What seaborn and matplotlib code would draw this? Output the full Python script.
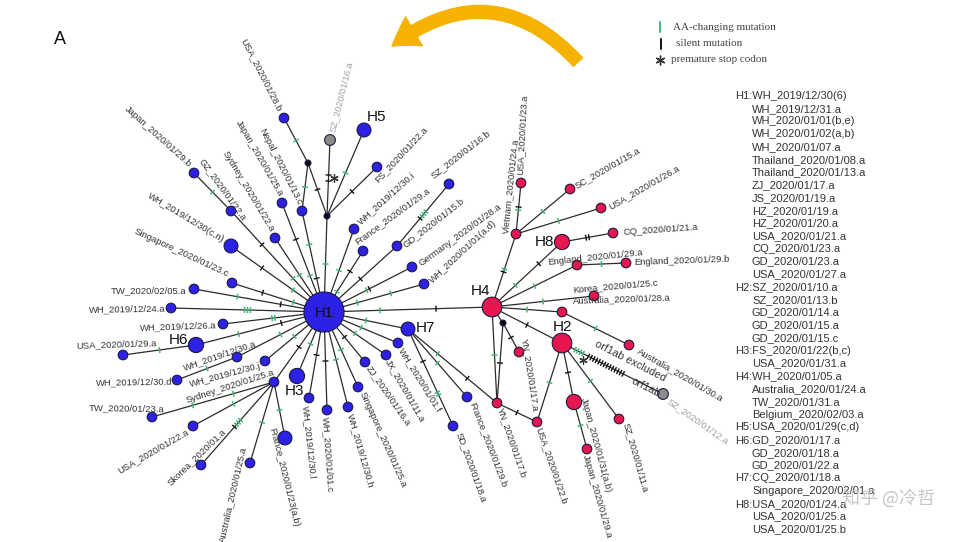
import numpy as np
import pandas as pd
import matplotlib.pyplot as plt
import seaborn as sns
from matplotlib.collections import LineCollection
from matplotlib.patches import FancyArrowPatch, ArrowStyle

sns.set_style("white")
plt.rcParams['font.family'] = ['Liberation Sans', 'DejaVu Sans']

# haplotype network nodes, positions (pixels, y pointing down)
node_names = [
    "H1", "J1", "J2", "USA_2020/01/28.b", "SZ_2020/01/16.a", "H5", "FS_2020/01/22.a",
    "Japan_2020/01/25.a", "Nepal_2020/01/13.c", "Sydney_2020/01/22.a", "GZ_2020/01/22.a",
    "Japan_2020/01/29.b", "WH_2019/12/30(c,n)", "Singapore_2020/01/23.c", "TW_2020/02/05.a",
    "WH_2019/12/24.a", "WH_2019/12/26.a", "H6", "USA_2020/01/29.a", "WH_2019/12/30.a",
    "WH_2019/12/30.d", "WH_2019/12/30.j", "Sydney_2020/01/25.a", "TW_2020/01/23.a",
    "USA_2020/01/22.a", "Skorea_2020/01.a", "Australia_2020/01/25.a", "France_2020/01/23(a,b)",
    "H3", "WH_2019/12/30.l", "WH_2020/01/01.c", "WH_2019/12/30.h", "Singapore_2020/01/25.a",
    "ZJ_2020/01/16.a", "JX_2020/01/11.a", "WH_2020/01/01.f", "H7", "SD_2020/01/18.a",
    "France_2020/01/29.b", "WH_2020/01/01(a,d)", "Germany_2020/01/28.a", "GD_2020/01/15.b",
    "SZ_2020/01/16.b", "France_2020/01/29.a", "WH_2019/12/30.i",
    "H4", "J3", "Vietnam_2020/01/24.a", "USA_2020/01/23.a", "SC_2020/01/15.a",
    "USA_2020/01/26.a", "H8", "CQ_2020/01/21.a", "England_2020/01/29.a", "England_2020/01/29.b",
    "Korea_2020/01/25.c", "Australia_2020/01/28.a", "Australia_2020/01/30.a", "H2",
    "YN_2020/01/17.a", "YN_2020/01/17.b", "USA_2020/01/22.b", "Japan_2020/01/31(a,b)",
    "Japan_2020/01/29.a", "SZ_2020/01/11.a", "SZ_2020/01/12.a",
]
node_x = [
    324, 308, 327, 284, 330, 364, 377,
    282, 302, 275, 231,
    194, 231, 232, 194,
    171, 223, 196, 123, 237,
    177, 265, 274, 152,
    193, 201, 250, 285,
    297, 309, 327, 348, 358,
    365, 386, 398, 408, 453,
    467, 424, 412, 397,
    449, 363, 354,
    492, 503, 516, 521, 570,
    601, 562, 613, 577, 626,
    594, 562, 629, 562,
    519, 497, 537, 574,
    587, 619, 663,
]
node_y = [
    312, 163, 216, 118, 140, 130, 167,
    203, 211, 238, 211,
    173, 246, 283, 289,
    308, 324, 345, 355, 357,
    380, 361, 382, 417,
    426, 465, 463, 438,
    376, 398, 410, 407, 387,
    362, 355, 343, 329, 426,
    397, 284, 267, 246,
    184, 251, 229,
    307, 323, 234, 183, 189,
    208, 242, 233, 265, 263,
    296, 312, 345, 343,
    352, 403, 422, 402,
    449, 419, 394,
]
# nodes not listed here belong to the blue (H1) or red (H4) clade
red_clade_start = node_names.index("H4")
special_group = {"J1": "junction", "J2": "junction", "J3": "junction",
                 "SZ_2020/01/16.a": "grey", "SZ_2020/01/12.a": "grey"}
node_kind = {
    "H1": "hub", "H4": "large", "H2": "large",
    "H8": "medium", "H6": "medium", "H3": "medium", "Japan_2020/01/31(a,b)": "medium",
    "H5": "small", "H7": "small", "WH_2019/12/30(c,n)": "small", "France_2020/01/23(a,b)": "small",
    "SZ_2020/01/16.a": "grey", "SZ_2020/01/12.a": "grey",
    "J1": "junction", "J2": "junction", "J3": "junction",
}

# edges: g = AA-changing mutation, k = silent mutation, * = premature stop codon, . = gap
edges = [
    ("H1", "J2", "g"), ("J2", "J1", "k"), ("J1", "USA_2020/01/28.b", "g"),
    ("J1", "Nepal_2020/01/13.c", "g"), ("Nepal_2020/01/13.c", "H1", "g k"),
    ("J2", "SZ_2020/01/16.a", "k*k"), ("J2", "H5", "g"), ("J2", "FS_2020/01/22.a", "k"),
    ("H1", "Japan_2020/01/25.a", "g k"), ("H1", "Sydney_2020/01/22.a", "g"),
    ("H1", "GZ_2020/01/22.a", "g k"), ("GZ_2020/01/22.a", "Japan_2020/01/29.b", "g"),
    ("H1", "WH_2019/12/30(c,n)", "g k"), ("H1", "Singapore_2020/01/23.c", "g k"),
    ("H1", "TW_2020/02/05.a", "k g"), ("H1", "WH_2019/12/24.a", "ggg"),
    ("H1", "WH_2019/12/26.a", "gg"), ("H1", "H6", "k g"), ("H6", "USA_2020/01/29.a", "g"),
    ("H1", "WH_2019/12/30.a", "g"), ("WH_2019/12/30.a", "WH_2019/12/30.d", "g"),
    ("H1", "WH_2019/12/30.j", "g"), ("H1", "Sydney_2020/01/25.a", "k"),
    ("Sydney_2020/01/25.a", "TW_2020/01/23.a", "g g"),
    ("Sydney_2020/01/25.a", "USA_2020/01/22.a", "g"),
    ("Sydney_2020/01/25.a", "Skorea_2020/01.a", "gggk"),
    ("Sydney_2020/01/25.a", "Australia_2020/01/25.a", "g"),
    ("Sydney_2020/01/25.a", "France_2020/01/23(a,b)", "g"),
    ("H1", "H3", "g"), ("H1", "WH_2019/12/30.l", "k"), ("H1", "WH_2020/01/01.c", "k"),
    ("H1", "WH_2019/12/30.h", "g"), ("H1", "Singapore_2020/01/25.a", "g"),
    ("H1", "ZJ_2020/01/16.a", "k"), ("H1", "JX_2020/01/11.a", "g"),
    ("H1", "WH_2020/01/01.f", "g"), ("H1", "H7", "g"),
    ("H7", "SD_2020/01/18.a", "k gg"), ("H7", "France_2020/01/29.b", "g"),
    ("H7", "YN_2020/01/17.b", "g k"), ("H1", "H4", "g k"),
    ("H1", "WH_2020/01/01(a,d)", "g g"), ("H1", "Germany_2020/01/28.a", "gk"),
    ("H1", "GD_2020/01/15.b", "k"), ("GD_2020/01/15.b", "SZ_2020/01/16.b", "kggg"),
    ("H1", "France_2020/01/29.a", "g k"), ("H1", "WH_2019/12/30.i", "g"),
    ("H4", "Vietnam_2020/01/24.a", "kg"), ("Vietnam_2020/01/24.a", "USA_2020/01/23.a", "gk"),
    ("Vietnam_2020/01/24.a", "SC_2020/01/15.a", "g"),
    ("Vietnam_2020/01/24.a", "USA_2020/01/26.a", "g"),
    ("H4", "H8", "g k"), ("H8", "CQ_2020/01/21.a", "kk"),
    ("H4", "England_2020/01/29.a", "g"), ("England_2020/01/29.a", "England_2020/01/29.b", "g"),
    ("H4", "Korea_2020/01/25.c", "g"), ("H4", "Australia_2020/01/28.a", "g"),
    ("Australia_2020/01/28.a", "Australia_2020/01/30.a", "g"),
    ("H4", "H2", "k"), ("H4", "YN_2020/01/17.b", "g"), ("H4", "J3", ""),
    ("J3", "YN_2020/01/17.a", "k"), ("J3", "YN_2020/01/17.b", "k"),
    ("YN_2020/01/17.b", "USA_2020/01/22.b", "k"), ("H2", "USA_2020/01/22.b", "g"),
    ("H2", "Japan_2020/01/31(a,b)", "k"), ("Japan_2020/01/31(a,b)", "Japan_2020/01/29.a", "g"),
    ("H2", "SZ_2020/01/11.a", "g"),
    ("H2", "SZ_2020/01/12.a", "gggg*kkkkkkkkkkkkkk.........."),
]

# haplotype membership list on the right
hap_ids = ["H1", "H2", "H3", "H4", "H5", "H6", "H7", "H8"]
hap_members = [
    ["WH_2019/12/30(6)", "WH_2019/12/31.a", "WH_2020/01/01(b,e)", "WH_2020/01/02(a,b)",
     "WH_2020/01/07.a", "Thailand_2020/01/08.a", "Thailand_2020/01/13.a", "ZJ_2020/01/17.a",
     "JS_2020/01/19.a", "HZ_2020/01/19.a", "HZ_2020/01/20.a", "USA_2020/01/21.a",
     "CQ_2020/01/23.a", "GD_2020/01/23.a", "USA_2020/01/27.a"],
    ["SZ_2020/01/10.a", "SZ_2020/01/13.b", "GD_2020/01/14.a", "GD_2020/01/15.a", "GD_2020/01/15.c"],
    ["FS_2020/01/22(b,c)", "USA_2020/01/31.a"],
    ["WH_2020/01/05.a", "Australia_2020/01/24.a", "TW_2020/01/31.a", "Belgium_2020/02/03.a"],
    ["USA_2020/01/29(c,d)"],
    ["GD_2020/01/17.a", "GD_2020/01/18.a", "GD_2020/01/22.a"],
    ["CQ_2020/01/18.a", "Singapore_2020/02/01.a"],
    ["USA_2020/01/24.a", "USA_2020/01/25.a", "USA_2020/01/25.b"],
]

legend_items = ["AA-changing mutation", "silent mutation", "premature stop codon"]

# label placement: anchor x, anchor y, rotation, alignment
label_layout = {
    "USA_2020/01/28.b": (280, 111, -63, "right"),
    "SZ_2020/01/16.a": (332, 132, 76, "left"),
    "FS_2020/01/22.a": (376, 181, 47, "left"),
    "Japan_2020/01/29.b": (190, 166, -42, "right"),
    "GZ_2020/01/22.a": (245, 219, -54, "right"),
    "Sydney_2020/01/22.a": (272, 231, -59, "right"),
    "Japan_2020/01/25.a": (281, 196, -60, "right"),
    "Nepal_2020/01/13.c": (300, 204, -63, "right"),
    "WH_2019/12/30(c,n)": (223, 240, -31, "right"),
    "Singapore_2020/01/23.c": (228, 275, -25, "right"),
    "TW_2020/02/05.a": (186, 291, 0, "right"),
    "WH_2019/12/24.a": (165, 308, 1, "right"),
    "WH_2019/12/26.a": (216, 325, 2, "right"),
    "USA_2020/01/29.a": (116, 344, 2, "center"),
    "WH_2019/12/30.a": (220, 355, 19, "center"),
    "WH_2019/12/30.j": (261, 366, 15, "right"),
    "WH_2019/12/30.d": (172, 381, 1, "right"),
    "Sydney_2020/01/25.a": (230, 386, 18, "center"),
    "TW_2020/01/23.a": (127, 408, -1, "center"),
    "USA_2020/01/22.a": (188, 431, 30, "right"),
    "Skorea_2020/01.a": (196, 457, 44, "center"),
    "Australia_2020/01/25.a": (244, 447, 77, "right"),
    "France_2020/01/23(a,b)": (272, 428, -76, "left"),
    "WH_2019/12/30.l": (305, 406, -84, "left"),
    "WH_2020/01/01.c": (325, 417, -86, "left"),
    "WH_2019/12/30.h": (350, 414, -74, "left"),
    "Singapore_2020/01/25.a": (362, 392, -66, "left"),
    "ZJ_2020/01/16.a": (368, 367, -55, "left"),
    "JX_2020/01/11.a": (388, 360, -60, "left"),
    "WH_2020/01/01.f": (401, 349, -58, "left"),
    "SD_2020/01/18.a": (459, 433, -70, "left"),
    "France_2020/01/29.b": (472, 402, -69, "left"),
    "YN_2020/01/17.b": (500, 408, -71, "left"),
    "USA_2020/01/22.b": (538, 428, -71, "left"),
    "YN_2020/01/17.a": (524, 338, -81, "left"),
    "Japan_2020/01/31(a,b)": (583, 398, -75, "left"),
    "Japan_2020/01/29.a": (585, 455, -74, "left"),
    "SZ_2020/01/11.a": (626, 423, -74, "left"),
    "SZ_2020/01/12.a": (668, 400, -35, "left"),
    "Australia_2020/01/30.a": (638, 350, -30, "left"),
    "Australia_2020/01/28.a": (573, 301, 2, "left"),
    "Korea_2020/01/25.c": (573, 290, 5, "left"),
    "England_2020/01/29.a": (548, 263, 6, "left"),
    "England_2020/01/29.b": (634, 263, 2, "left"),
    "CQ_2020/01/21.a": (623, 233, 4, "left"),
    "USA_2020/01/26.a": (609, 207, 30, "left"),
    "SC_2020/01/15.a": (575, 186, 30, "left"),
    "USA_2020/01/23.a": (520, 175, 87, "left"),
    "Vietnam_2020/01/24.a": (506, 234, 84, "left"),
    "WH_2019/12/30.i": (359, 223, 42, "left"),
    "France_2020/01/29.a": (356, 243, 36, "left"),
    "SZ_2020/01/16.b": (432, 177, 38, "left"),
    "GD_2020/01/15.b": (404, 246, 38, "left"),
    "Germany_2020/01/28.a": (420, 264, 36, "left"),
    "WH_2020/01/01(a,d)": (431, 282, 43, "left"),
    "H1": (324, 313, 0, "center"), "H2": (563, 327, 0, "center"),
    "H3": (294, 391, 0, "center"), "H4": (481, 291, 0, "center"),
    "H5": (377, 117, 0, "center"), "H6": (179, 340, 0, "center"),
    "H7": (425, 328, 0, "center"), "H8": (544, 242, 0, "center"),
}

df = pd.DataFrame({"name": node_names, "x": node_x, "y": node_y})
df["group"] = [special_group.get(n, "blue" if i < red_clade_start else "red")
               for i, n in enumerate(node_names)]
df["kind"] = [node_kind.get(n, "leaf") for n in node_names]
pos = dict(zip(df["name"], zip(df["x"], df["y"])))

fig = plt.figure(figsize=(9.61, 5.42), dpi=100)
ax = fig.add_axes([0, 0, 1, 1])

GREEN = "#3fb877"
edge_segs, green_ticks, black_ticks, stops = [], [], [], []
for a, b, muts in edges:
    (x0, y0), (x1, y1) = pos[a], pos[b]
    dx, dy = x1 - x0, y1 - y0
    L = np.hypot(dx, dy)
    ux, uy = dx / L, dy / L
    px, py = -uy, ux
    edge_segs.append([(x0, y0), (x1, y1)])
    groups = muts.split()
    for gi, grp in enumerate(groups):
        f = (gi + 1) / (len(groups) + 1)
        cx, cy = x0 + dx * f, y0 + dy * f
        offs = (np.arange(len(grp)) - (len(grp) - 1) / 2) * 3.0
        for o, ch in zip(offs, grp):
            mx, my = cx + ux * o, cy + uy * o
            seg = [(mx - px * 3, my - py * 3), (mx + px * 3, my + py * 3)]
            if ch == "g":
                green_ticks.append(seg)
            elif ch == "k":
                black_ticks.append(seg)
            elif ch == "*":
                stops.append((mx + px * 6, my + py * 6))

ax.add_collection(LineCollection(edge_segs, colors="#2b2b2b", linewidths=0.9, zorder=1))
ax.add_collection(LineCollection(green_ticks, colors=GREEN, linewidths=1.1, zorder=2))
ax.add_collection(LineCollection(black_ticks, colors="#111111", linewidths=1.0, zorder=2))
for sx, sy in stops:
    ax.plot(sx, sy, marker=(6, 2, 0), ms=6, color="#333333", mew=0.9, zorder=2)

palette = {"blue": "#2d21e6", "red": "#e8164f", "grey": "#8c8c8c", "junction": "#0d0d0d"}
sizes = {"hub": 830, "large": 200, "medium": 120, "small": 100, "grey": 60,
         "leaf": 48, "junction": 18}
sns.scatterplot(data=df, x="x", y="y", hue="group", size="kind", palette=palette,
                sizes=sizes, edgecolor="#1a1a40", linewidth=0.8, legend=False,
                ax=ax, zorder=3)

for name, (tx, ty, rot, ha) in label_layout.items():
    if name.startswith("H") and len(name) == 2:
        ax.text(tx, ty, name, fontsize=11 if name != "H1" else 10.5, ha="center",
                va="center", color="#111111", zorder=5)
        continue
    col = "#a0a0a0" if name in ("SZ_2020/01/16.a", "SZ_2020/01/12.a") else "#333333"
    ax.text(tx, ty, name, fontsize=6.8, rotation=rot, rotation_mode="anchor",
            ha=ha, va="center", color=col, zorder=4)

# orf1ab notes on the excluded branch
ax.text(595, 343, "orf1ab excluded", fontsize=7.8, rotation=-27, rotation_mode="anchor",
        ha="left", va="center", color="#333333", zorder=4)
ax.text(632, 380, "orf1ab", fontsize=7.8, rotation=-27, rotation_mode="anchor",
        ha="left", va="center", color="#333333", zorder=4)

# legend
ax.plot([660, 660], [22, 32], color=GREEN, lw=1.4)
ax.plot([661, 661], [39, 49], color="#111111", lw=1.4)
ax.plot(660, 60, marker=(6, 2, 0), ms=7, color="#333333", mew=1.0)
for i, t in enumerate(legend_items):
    ax.text([673, 676, 671][i], [28, 44, 59][i], t, fontsize=8,
            family=["Liberation Serif"], va="center", color="#444444")

# haplotype membership list
row = 0
for hid, members in zip(hap_ids, hap_members):
    for j, m in enumerate(members):
        y = 99 + row * 12.74
        if j == 0:
            ax.text(735, y, f"{hid}:{m}", fontsize=8, va="baseline", color="#333333")
        else:
            ax.text(752, y, m, fontsize=8, va="baseline", color="#333333")
        row += 1

# orange arrow
arrow = FancyArrowPatch(posA=(578, 62), posB=(392, 46), connectionstyle="arc3,rad=0.45",
                        arrowstyle=ArrowStyle.Simple(head_length=1.9, head_width=2.4,
                                                     tail_width=0.9),
                        mutation_scale=10, color="#f6b200", shrinkA=0, shrinkB=0, zorder=2)
ax.add_patch(arrow)

ax.text(60, 40, "A", fontsize=13, va="center", ha="center", color="#111111")
ax.text(935, 498, "知乎 @冷哲", fontsize=13, ha="right", va="center", color="#bdbdbd",
        alpha=0.85, family=["Noto Sans CJK SC", "DejaVu Sans"], zorder=6)

ax.set_xlim(0, 961)
ax.set_ylim(542, 0)
ax.axis("off")
fig.savefig("out.png", dpi=100)
